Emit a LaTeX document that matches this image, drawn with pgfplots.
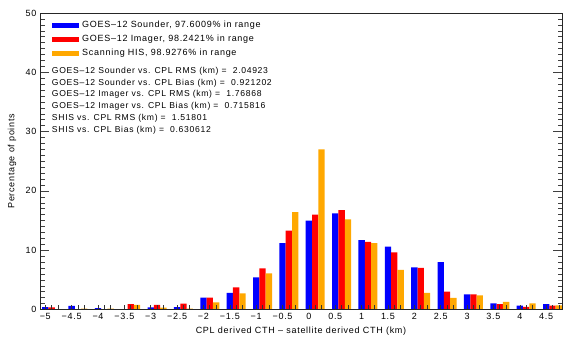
\documentclass[border=0pt]{standalone}
\usepackage{pgfplots}
\pgfplotsset{compat=1.18}
\usepackage{pgfplotstable}
\usepackage{fontspec}
\setmainfont[LetterSpace=8]{Liberation Sans}

\definecolor{sndblue}{RGB}{0,0,255}
\definecolor{imgred}{RGB}{255,0,0}
\definecolor{shisorange}{RGB}{255,168,0}

% Percentage of points per 0.5 km bin of (CPL CTH - satellite CTH)
\pgfplotstableread{
x     sounder imager shis
-5    0.40    0.35   0.00
-4.5  0.60    0.00   0.15
-4    0.25    0.00   0.15
-3.5  0.05    0.90   0.80
-3    0.35    0.80   0.30
-2.5  0.40    1.00   0.15
-2    2.00    2.00   1.20
-1.5  2.80    3.75   2.70
-1    5.40    6.95   6.10
-0.5  11.20   13.30  16.40
0     15.00   16.00  27.00
0.5   16.20   16.75  15.20
1     11.70   11.40  11.20
1.5   10.60   9.65   6.70
2     7.10    7.00   2.80
2.5   8.00    3.00   1.95
3     2.55    2.55   2.40
3.5   1.05    0.90   1.30
4     0.65    0.45   1.05
4.5   0.90    0.65   0.70
}\cthdiff

\begin{document}
\begin{tikzpicture}[x=1pt,y=1pt]
\path[use as bounding box] (0,0) rectangle (564,339);
\begin{axis}[
  at={(40pt,29.5pt)}, anchor=south west,
  scale only axis, width=522pt, height=296.5pt,
  xmin=-5.1, xmax=4.8, ymin=0, ymax=50,
  axis on top,
  axis line style={black!85, line width=0.6pt},
  font=\fontsize{9}{10}\selectfont,
  /pgf/number format/assume math mode=true,
  xtick={-5,-4.5,...,4.5},
  xticklabels={−5,−4.5,−4,−3.5,−3,−2.5,−2,−1.5,−1,−0.5,0,0.5,1,1.5,2,2.5,3,3.5,4,4.5},
  minor xtick={-5,-4.88,-4.76,-4.5,-4.38,-4.26,-4,-3.88,-3.76,-3.5,-3.38,-3.26,
    -3,-2.88,-2.76,-2.5,-2.38,-2.26,-2,-1.88,-1.76,-1.5,-1.38,-1.26,
    -1,-0.88,-0.76,-0.5,-0.38,-0.26,0,0.12,0.24,0.5,0.62,0.74,
    1,1.12,1.24,1.5,1.62,1.74,2,2.12,2.24,2.5,2.62,2.74,
    3,3.12,3.24,3.5,3.62,3.74,4,4.12,4.24,4.5,4.62,4.74},
  xtick pos=bottom,
  major x tick style={draw=none},
  minor x tick style={black!80, line width=0.6pt},
  ytick={0,10,...,50},
  minor y tick num=9,
  ytick pos=both, yticklabel pos=left,
  y tick style={black!75, line width=0.5pt},
  tick align=inside,
  major tick length=9pt, minor tick length=4.5pt,
  xlabel={CPL derived CTH -- satellite derived CTH (km)},
  ylabel={Percentage of points},
  xlabel style={at={(axis description cs:0.5,-0.0725)}, anchor=center},
  ylabel style={at={(axis description cs:-0.0536,0.5)}, anchor=center},
  legend cell align=left,
  legend style={at={(axis description cs:0.023,0.974)}, anchor=north west,
    draw=none, fill=none, inner sep=0pt, row sep=5pt,
    column sep=3pt,
    nodes={inner sep=0pt, text height=7pt, text depth=2pt}},
]
\addplot[ybar, bar width=0.12, bar shift=0, fill=sndblue, draw=none,
  legend image code/.code={\fill[sndblue] (0pt,-2.85pt) rectangle (27pt,2.85pt);}]
  table[x=x, y=sounder]{\cthdiff};
\addlegendentry{GOES--12 Sounder, 97.6009\% in range}
\addplot[ybar, bar width=0.12, bar shift=0.12, fill=imgred, draw=none,
  legend image code/.code={\fill[imgred] (0pt,-2.85pt) rectangle (27pt,2.85pt);}]
  table[x=x, y=imager]{\cthdiff};
\addlegendentry{GOES--12 Imager, 98.2421\% in range}
\addplot[ybar, bar width=0.12, bar shift=0.24, fill=shisorange, draw=none,
  legend image code/.code={\fill[shisorange] (0pt,-2.85pt) rectangle (27pt,2.85pt);}]
  table[x=x, y=shis]{\cthdiff};
\addlegendentry{Scanning HIS, 98.9276\% in range}

\node[anchor=north west, align=left, inner sep=0pt,
  font=\fontsize{8.6}{11.8}\selectfont]
  at (axis description cs:0.0225,0.818) {%
  GOES--12 Sounder vs. CPL RMS (km) = \ 2.04923\\
  GOES--12 Sounder vs. CPL Bias (km) = \ 0.921202\\
  GOES--12 Imager vs. CPL RMS (km) = \ 1.76868\\
  GOES--12 Imager vs. CPL Bias (km) = \ 0.715816\\
  SHIS vs. CPL RMS (km) = \ 1.51801\\
  SHIS vs. CPL Bias (km) = \ 0.630612};
\end{axis}
\end{tikzpicture}
\end{document}
